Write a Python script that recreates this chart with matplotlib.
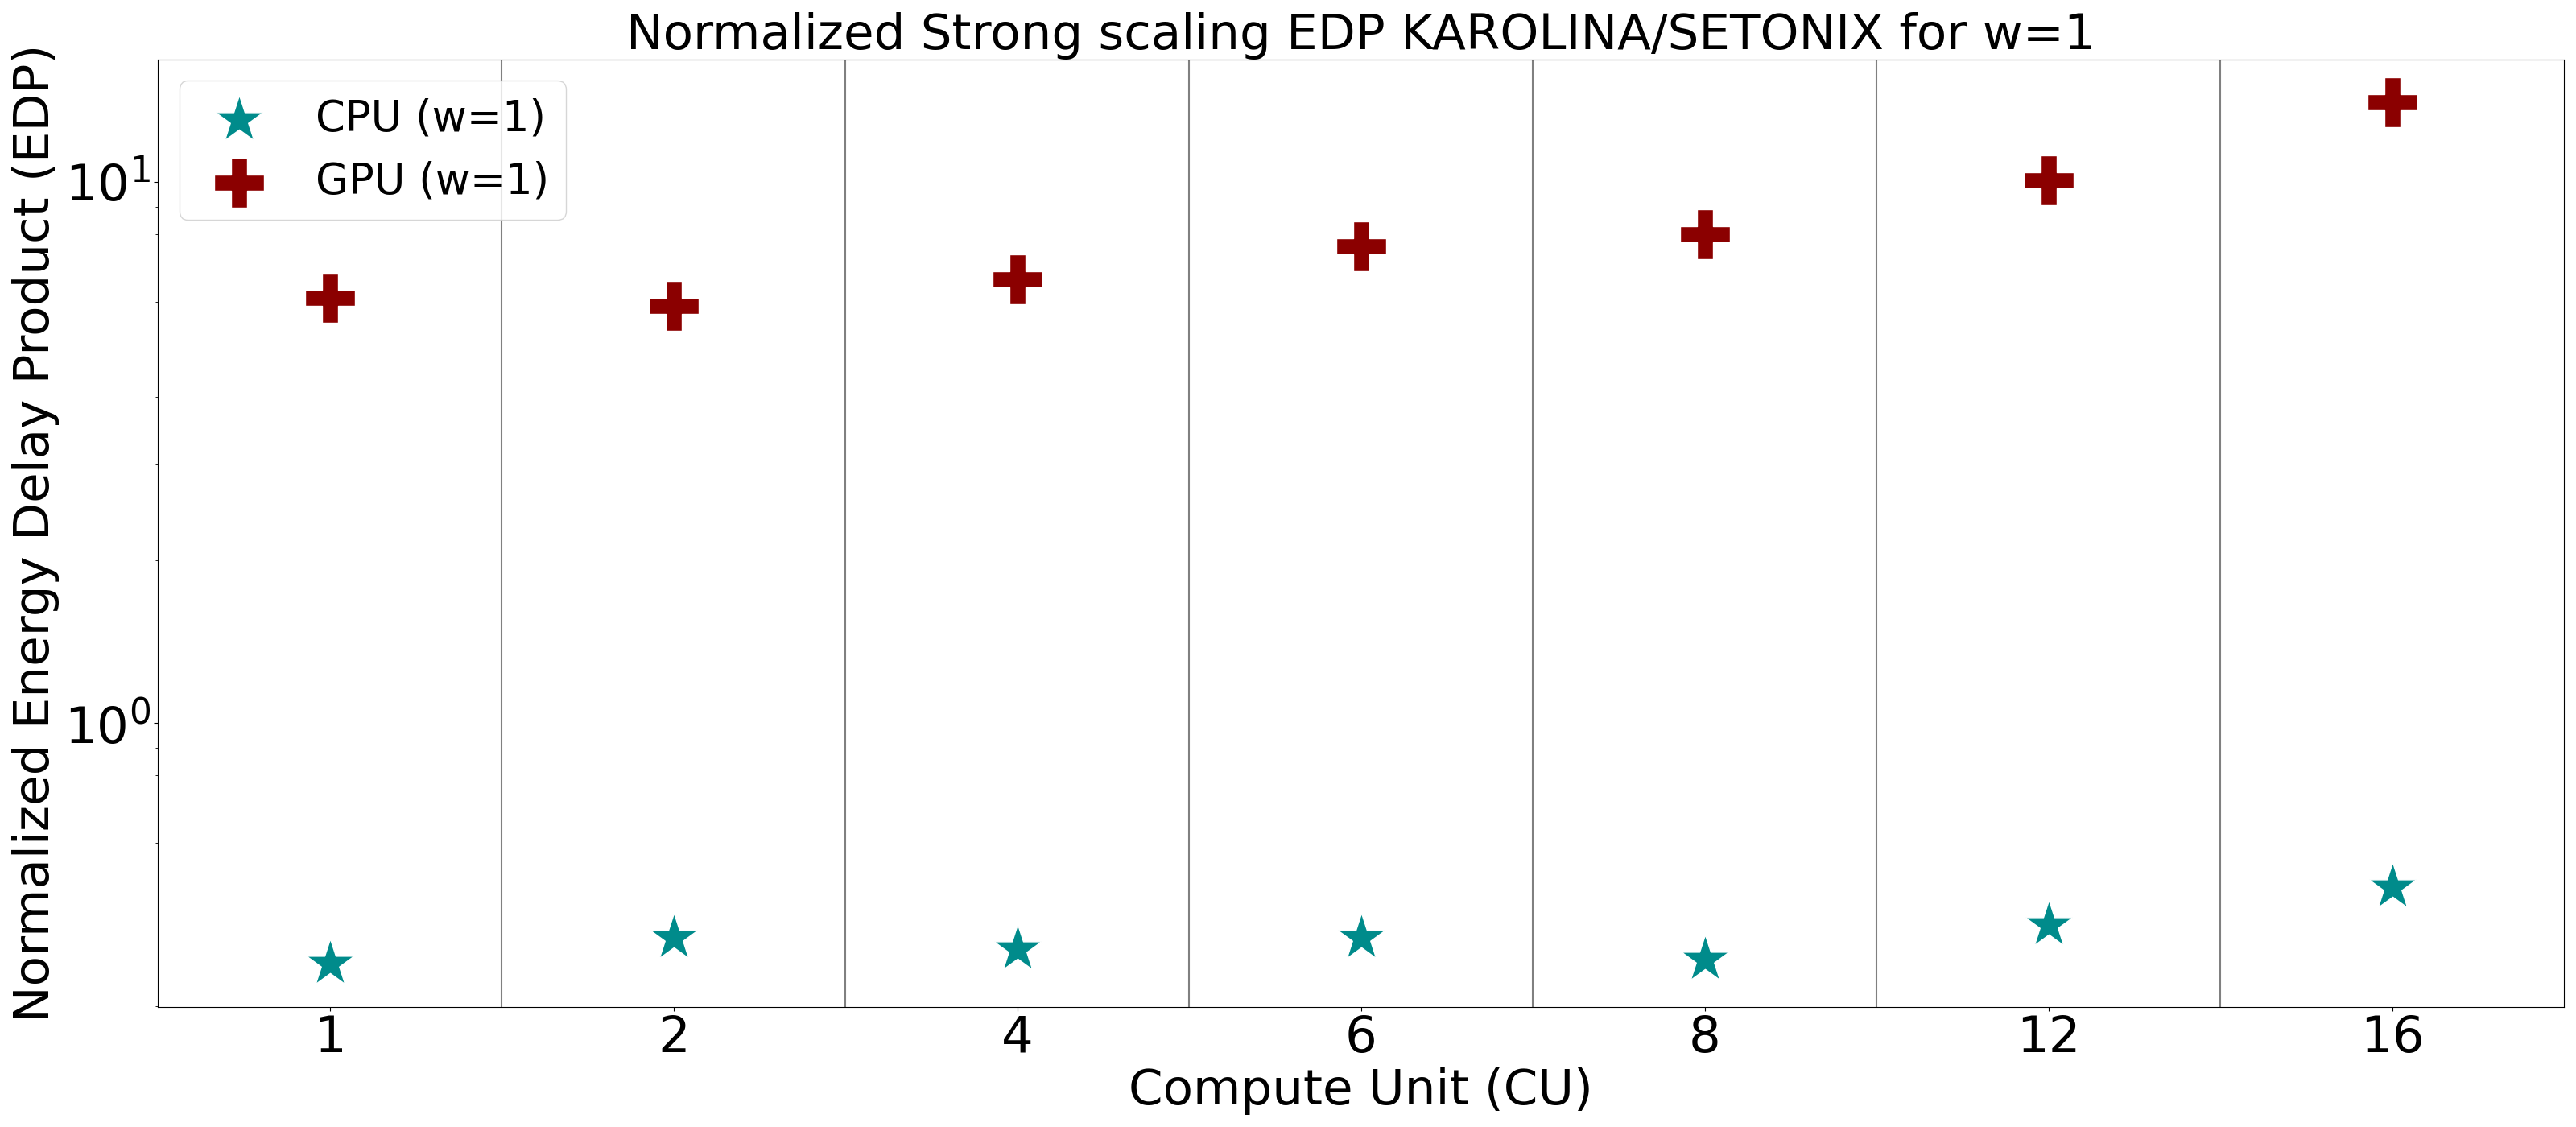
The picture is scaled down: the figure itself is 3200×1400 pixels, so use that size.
import matplotlib
matplotlib.use("Agg")
import matplotlib.pyplot as plt
import numpy as np

# compute units (categorical x axis)
cu_labels = ["1", "2", "4", "6", "8", "12", "16"]

# normalized EDP, KAROLINA / SETONIX, w=1
cpu_edp = [0.359, 0.401, 0.382, 0.401, 0.366, 0.424, 0.498]
gpu_edp = [6.1, 5.9, 6.6, 7.6, 8.0, 10.07, 14.0]

fig, ax = plt.subplots(figsize=(32, 14), dpi=100)
index = np.arange(len(cu_labels))

ax.scatter(index, cpu_edp, marker='*', s=2000, color='darkcyan', edgecolors='white', label='CPU (w=1)')
ax.scatter(index, gpu_edp, marker='P', s=2000, color='darkred', edgecolors='white', label='GPU (w=1)')

# separators between compute units
for xs in index[:-1] + 0.5:
    ax.axvline(xs, color='gray', linewidth=1.5)

ax.set_yscale('log')
ax.set_xlim(-0.5, len(cu_labels) - 0.5)
ax.set_xticks(index)
ax.set_xticklabels(cu_labels)
ax.tick_params(axis='both', which='major', labelsize=45)

ax.set_xlabel('Compute Unit (CU)', fontsize=44)
ax.set_ylabel('Normalized Energy Delay Product (EDP)', fontsize=44)
ax.set_title('Normalized Strong scaling EDP KAROLINA/SETONIX for w=1', fontsize=44)

ax.legend(loc='upper left', fontsize=38)

fig.tight_layout()
plt.savefig('out.png')
